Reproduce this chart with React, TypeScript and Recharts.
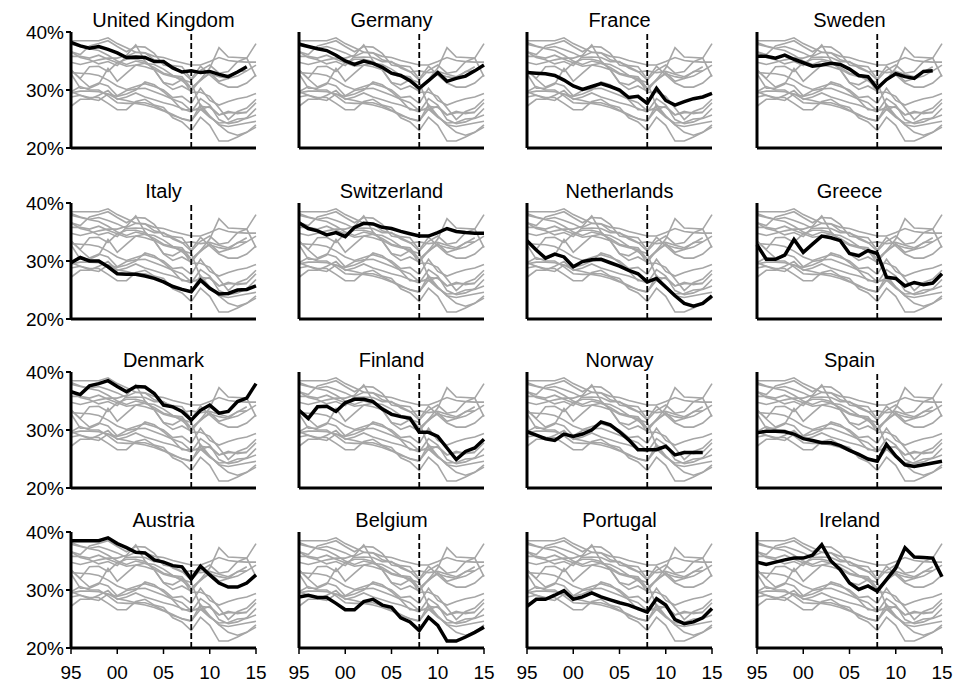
import { LineChart, Line, XAxis, YAxis, ReferenceLine } from "recharts";

const years = [1995, 1996, 1997, 1998, 1999, 2000, 2001, 2002, 2003, 2004, 2005, 2006, 2007, 2008, 2009, 2010, 2011, 2012, 2013, 2014, 2015];
const xTicks = [1995, 2000, 2005, 2010, 2015];
const yTicks = [20, 30, 40];

const countries = [
  "United Kingdom", "Germany", "France", "Sweden",
  "Italy", "Switzerland", "Netherlands", "Greece",
  "Denmark", "Finland", "Norway", "Spain",
  "Austria", "Belgium", "Portugal", "Ireland",
];

const unitedKingdom = [38.2, 37.6, 37.2, 37.5, 37.0, 36.4, 35.6, 35.7, 35.6, 34.9, 34.9, 33.8, 33.1, 33.3, 33.0, 33.2, 32.7, 32.3, 33.1, 34.0, null];
const germany = [37.9, 37.5, 37.1, 36.8, 36.0, 35.0, 34.4, 35.0, 34.6, 33.9, 32.9, 32.5, 31.6, 30.3, 31.6, 33.0, 31.5, 32.0, 32.4, 33.3, 34.3];
const france = [33.0, 32.9, 32.8, 32.5, 31.7, 30.7, 30.1, 30.6, 31.1, 30.6, 30.0, 28.7, 28.9, 27.7, 30.3, 28.2, 27.4, 28.0, 28.5, 28.8, 29.4];
const sweden = [35.8, 35.8, 35.5, 36.0, 35.3, 34.7, 34.1, 34.3, 34.6, 34.4, 33.6, 32.5, 32.3, 30.3, 31.8, 32.8, 32.3, 32.0, 33.2, 33.3, null];
const italy = [29.7, 30.6, 30.0, 30.0, 29.0, 27.8, 27.7, 27.7, 27.4, 27.0, 26.4, 25.6, 25.1, 24.7, 26.7, 25.3, 24.3, 24.4, 25.0, 25.1, 25.7];
const switzerland = [36.6, 35.6, 35.2, 34.5, 34.9, 34.2, 35.8, 36.5, 36.4, 35.8, 35.6, 35.1, 34.7, 34.3, 34.3, 34.9, 35.6, 35.1, 34.9, 34.8, 34.8];
const netherlands = [33.5, 31.9, 30.5, 31.2, 30.7, 29.0, 29.9, 30.2, 30.3, 29.7, 29.1, 28.4, 27.8, 26.4, 27.0, 25.5, 24.0, 22.7, 22.2, 22.7, 24.0];
const greece = [32.8, 30.3, 30.3, 31.0, 33.7, 31.5, 32.9, 34.3, 34.0, 33.5, 31.3, 30.9, 31.8, 31.3, 27.2, 27.0, 25.7, 26.3, 25.9, 26.2, 27.8];
const denmark = [36.6, 36.1, 37.6, 38.0, 38.5, 37.5, 36.6, 37.5, 37.4, 36.3, 34.3, 34.0, 33.2, 31.7, 33.4, 34.3, 32.9, 33.2, 34.9, 35.5, 38.0];
const finland = [33.4, 32.0, 34.0, 34.1, 33.2, 34.7, 35.3, 35.3, 34.9, 33.6, 32.7, 32.3, 32.0, 29.6, 29.6, 28.9, 26.9, 24.9, 26.3, 26.9, 28.4];
const norway = [29.7, 29.1, 28.5, 28.2, 29.3, 28.9, 29.3, 30.0, 31.4, 30.9, 29.7, 28.3, 26.6, 26.6, 26.6, 27.2, 25.7, 26.1, 26.1, 26.1, null];
const spain = [29.5, 29.8, 29.8, 29.7, 29.3, 28.5, 28.2, 27.8, 27.8, 27.3, 26.5, 25.8, 25.0, 24.6, 27.5, 25.5, 24.0, 23.7, 24.0, 24.3, 24.6];
const austria = [38.5, 38.5, 38.5, 38.5, 39.0, 38.0, 37.3, 36.5, 36.4, 35.2, 34.8, 34.2, 34.0, 31.9, 34.1, 32.6, 31.2, 30.5, 30.5, 31.2, 32.6];
const belgium = [28.8, 29.1, 28.7, 28.7, 27.7, 26.6, 26.6, 28.0, 28.4, 27.4, 27.0, 25.2, 24.5, 23.0, 25.3, 23.9, 21.2, 21.2, 21.9, 22.7, 23.6];
const portugal = [27.2, 28.4, 28.4, 29.1, 29.9, 28.4, 28.8, 29.5, 28.8, 28.3, 27.8, 27.4, 26.8, 26.2, 28.5, 27.4, 24.9, 24.2, 24.5, 25.2, 26.8];
const ireland = [34.8, 34.4, 34.8, 35.2, 35.5, 35.5, 36.0, 37.8, 35.0, 33.5, 31.2, 30.1, 30.7, 29.8, 31.8, 33.8, 37.3, 35.7, 35.6, 35.5, 32.3];

const series = [
  unitedKingdom, germany, france, sweden,
  italy, switzerland, netherlands, greece,
  denmark, finland, norway, spain,
  austria, belgium, portugal, ireland,
];

const data = years.map((year, i) => {
  const row: Record<string, number | null> = { year };
  countries.forEach((c, k) => {
    row[c] = series[k][i];
  });
  return row;
});

// layout of the 4x4 grid (plot area corners)
const COL_X = [71, 299, 527, 757];
const ROW_Y = [32, 203, 372, 532];
const PLOT_W = 185;
const PLOT_H = 116;
const Y_AXIS_W = 70;
const X_AXIS_H = 42;
const TOP = 16;
const RIGHT = 14;

const font = "'Liberation Sans', Arial, sans-serif";

const Panel = ({ index }: { index: number }) => {
  const col = index % 4;
  const row = Math.floor(index / 4);
  const name = countries[index];
  const showY = col === 0;
  const showX = row === 3;
  const others = countries.filter((c) => c !== name);

  return (
    <>
      <div
        style={{
          position: "absolute",
          left: COL_X[col] - 40,
          width: PLOT_W + 80,
          top: ROW_Y[row] - 22,
          textAlign: "center",
          fontFamily: font,
          fontSize: 20,
          lineHeight: "20px",
          color: "#000",
          whiteSpace: "nowrap",
        }}
      >
        {name}
      </div>
      <div style={{ position: "absolute", left: COL_X[col] - Y_AXIS_W, top: ROW_Y[row] - TOP }}>
        <LineChart
          width={Y_AXIS_W + PLOT_W + RIGHT}
          height={TOP + PLOT_H + X_AXIS_H}
          data={data}
          margin={{ top: TOP, right: RIGHT, bottom: 0, left: 0 }}
        >
          <XAxis
            dataKey="year"
            type="number"
            domain={[1995, 2015]}
            ticks={xTicks}
            tickFormatter={(v) => String(v).slice(2)}
            height={X_AXIS_H}
            axisLine={{ stroke: "#000", strokeWidth: 3 }}
            tickLine={showX ? { stroke: "#000", strokeWidth: 1.5 } : false}
            tickSize={6}
            tickMargin={12}
            tick={showX ? { fill: "#000", fontSize: 19, fontFamily: font } : false}
            interval={0}
          />
          <YAxis
            domain={[20, 40]}
            ticks={yTicks}
            tickFormatter={(v) => `${v}%`}
            width={Y_AXIS_W}
            axisLine={{ stroke: "#000", strokeWidth: 3 }}
            tickLine={showY ? { stroke: "#000", strokeWidth: 2 } : false}
            tickSize={5}
            tick={showY ? { fill: "#000", fontSize: 19, fontFamily: font } : false}
            interval={0}
          />
          {others.map((c) => (
            <Line
              key={c}
              dataKey={c}
              stroke="#a6a6a6"
              strokeWidth={1.6}
              dot={false}
              isAnimationActive={false}
            />
          ))}
          <ReferenceLine x={2008} stroke="#000" strokeWidth={1.8} strokeDasharray="6 3" />
          <Line
            dataKey={name}
            stroke="#000"
            strokeWidth={3.5}
            dot={false}
            isAnimationActive={false}
          />
        </LineChart>
      </div>
    </>
  );
};

export default function App() {
  return (
    <div style={{ position: "absolute", left: 0, top: 0, width: 959, height: 686, background: "#fff" }}>
      {countries.map((_, i) => (
        <Panel key={i} index={i} />
      ))}
    </div>
  );
}
